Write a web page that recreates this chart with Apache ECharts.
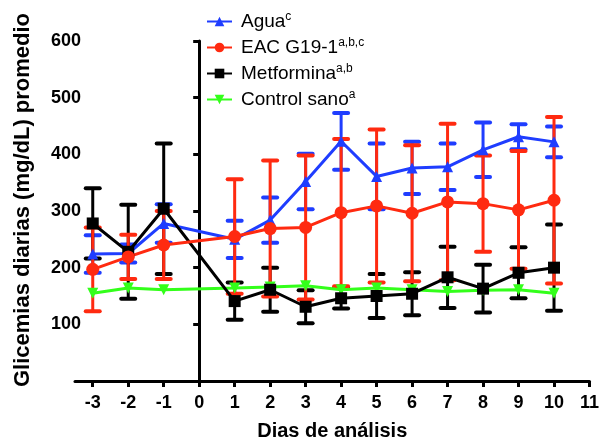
<!DOCTYPE html>
<html>
<head>
<meta charset="utf-8">
<script src="https://cdn.jsdelivr.net/npm/echarts@6/dist/echarts.min.js"></script>
<style>
  html, body { margin: 0; padding: 0; background: #fff; }
  #chart { width: 602px; height: 446px; }
</style>
</head>
<body>
<div id="chart"></div>
<script>
// days measured (no measurement on day 0)
const days = [-3, -2, -1, 1, 2, 3, 4, 5, 6, 7, 8, 9, 10];
const xTicks = [-3, -2, -1, 0, 1, 2, 3, 4, 5, 6, 7, 8, 9, 10, 11];

const agua = [224, 225, 278, 250, 284, 352, 423, 361, 376, 378, 408, 431, 422];
const aguaErr = [33, 16, 34, 33, 40, 49, 50, 58, 46, 41, 48, 22, 27];
const eac = [197, 219, 240, 255, 269, 271, 297, 309, 296, 316, 313, 302, 319];
const eacErr = [74, 39, 60, 101, 120, 127, 130, 135, 120, 138, 85, 104, 147];
const metformina = [278, 228, 304, 141, 161, 131, 146, 150, 154, 183, 163, 191, 200];
const metforminaErr = [62, 83, 115, 33, 39, 29, 18, 39, 38, 54, 42, 45, 76];
const control = [155, 164, 161, 164, 166, 168, 161, 164, 161, 158, 160, 161, 155];

const legendNames = ['Agua', 'EAC G19-1', 'Metformina', 'Control sano'];
const legendSups = ['c', 'a,b,c', 'a,b', 'a'];

const BLUE = '#1f3dff';
const RED = '#ff2a10';
const BLACK = '#000000';
const GREEN = '#33ff1a';

const chart = echarts.init(document.getElementById('chart'));

function pts(vals) {
    return days.map((d, i) => [d, vals[i]]);
}
function errPts(vals, errs) {
    return days.map((d, i) => [d, vals[i] - errs[i], vals[i] + errs[i]]);
}

function errorBars(name, color, data) {
    return {
        name: name,
        type: 'custom',
        silent: true,
        data: data,
        renderItem: function (params, api) {
            const x = api.value(0);
            const top = api.coord([x, api.value(2)]);
            const bot = api.coord([x, api.value(1)]);
            const w = 7;
            const st = { stroke: color, lineWidth: 3 };
            const cap = { stroke: color, lineWidth: 4, lineCap: 'round' };
            return {
                type: 'group',
                children: [
                    { type: 'line', shape: { x1: top[0], y1: top[1], x2: bot[0], y2: bot[1] }, style: st },
                    { type: 'line', shape: { x1: top[0] - w, y1: top[1], x2: top[0] + w, y2: top[1] }, style: cap },
                    { type: 'line', shape: { x1: bot[0] - w, y1: bot[1], x2: bot[0] + w, y2: bot[1] }, style: cap }
                ]
            };
        }
    };
}

function lineSeries(name, color, data, symbol, size, rotate) {
    return {
        name: name,
        type: 'line',
        data: data,
        symbol: symbol,
        symbolSize: size,
        symbolRotate: rotate || 0,
        showAllSymbol: true,
        lineStyle: { color: color, width: 3 },
        itemStyle: { color: color },
        emphasis: { disabled: true }
    };
}

const options = {
    animation: false,
    grid: { left: 75, right: 11, top: 41, bottom: 60 },
    legend: {
        data: legendNames,
        orient: 'vertical',
        left: 206,
        top: 11,
        padding: 0,
        itemWidth: 25,
        itemHeight: 12,
        itemGap: 6,
        formatter: function (name) {
            const i = legendNames.indexOf(name);
            return '{n|' + name + '}{s|' + legendSups[i] + '}';
        },
        textStyle: {
            color: '#000',
            rich: {
                n: { fontFamily: 'Liberation Sans', fontSize: 19, lineHeight: 21, color: '#000', padding: [0, 0, 0, 4] },
                s: { fontFamily: 'Liberation Sans', fontSize: 12, color: '#000', padding: [0, 0, 9, 0] }
            }
        }
    },
    xAxis: {
        type: 'value',
        min: -3.5,
        max: 11,
        name: 'Dias de análisis',
        nameLocation: 'middle',
        nameGap: 40,
        nameTextStyle: { fontFamily: 'Liberation Sans', fontWeight: 'bold', fontSize: 20, color: '#000' },
        splitLine: { show: false },
        axisLine: { onZero: false, lineStyle: { color: '#000', width: 3 } },
        axisTick: { customValues: xTicks, length: 6, lineStyle: { color: '#000', width: 3 } },
        axisLabel: {
            customValues: xTicks,
            margin: 13,
            fontFamily: 'Liberation Sans',
            fontWeight: 'bold',
            fontSize: 18,
            color: '#000'
        }
    },
    yAxis: [
        {
            type: 'value',
            min: 0,
            max: 600,
            interval: 100,
            splitLine: { show: false },
            axisLine: { onZero: true, lineStyle: { color: '#000', width: 3 } },
            axisTick: { length: 6, lineStyle: { color: '#000', width: 3 } },
            axisLabel: { show: false }
        },
        {
            type: 'value',
            min: 0,
            max: 600,
            interval: 100,
            position: 'left',
            name: 'Glicemias diarias (mg/dL) promedio',
            nameLocation: 'middle',
            nameRotate: 90,
            nameGap: 41,
            nameTextStyle: {
                fontFamily: 'Liberation Sans', fontWeight: 'bold', fontSize: 22, color: '#000',
                padding: [0, 0, 0, 22]
            },
            splitLine: { show: false },
            axisLine: { show: false, onZero: false },
            axisTick: { show: false },
            axisLabel: {
                margin: -6,
                fontFamily: 'Liberation Sans',
                fontWeight: 'bold',
                fontSize: 18,
                color: '#000',
                formatter: v => (v === 0 ? '' : String(v))
            }
        }
    ],
    series: [
        lineSeries('Control sano', GREEN, pts(control), 'triangle', 11, 180),
        errorBars('eb-agua', BLUE, errPts(agua, aguaErr)),
        lineSeries('Agua', BLUE, pts(agua), 'triangle', 11),
        errorBars('eb-metformina', BLACK, errPts(metformina, metforminaErr)),
        lineSeries('Metformina', BLACK, pts(metformina), 'rect', 12),
        errorBars('eb-eac', RED, errPts(eac, eacErr)),
        lineSeries('EAC G19-1', RED, pts(eac), 'circle', 13)
    ]
};
chart.setOption(options);
</script>
</body>
</html>
